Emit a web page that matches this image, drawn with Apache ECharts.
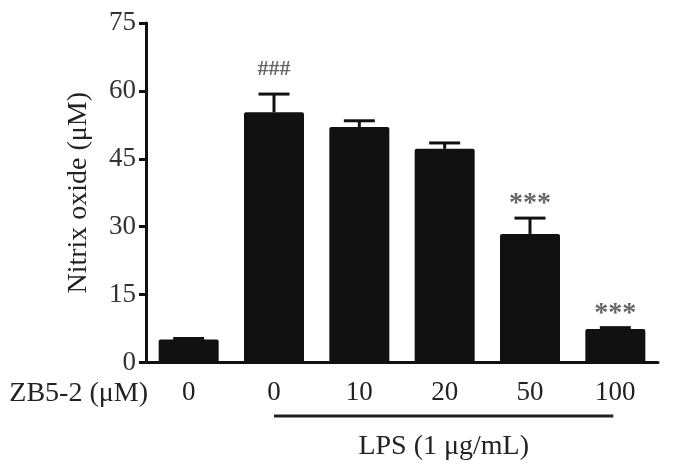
<!DOCTYPE html>
<html>
<head>
<meta charset="utf-8">
<script src="https://cdn.jsdelivr.net/npm/echarts@6/dist/echarts.min.js"></script>
<style>
html,body{margin:0;padding:0;background:#fff;}
#main{width:673px;height:470px;}
</style>
</head>
<body>
<div id="main"></div>
<script>
const categories = ['0', '0', '10', '20', '50', '100'];
const means = [5.1, 55.3, 52.0, 47.2, 28.4, 7.4];
const upperErr = [5.3, 59.3, 53.4, 48.5, 31.9, 7.7];
const marks = ['', '###', '', '', '***', '***'];
const yTicks = [0, 15, 30, 45, 60, 75];

const FONT = '"Liberation Serif", "Times New Roman", serif';
const chart = echarts.init(document.getElementById('main'));

const errData = categories.map((c, i) => [i, means[i], upperErr[i], marks[i]]);

chart.setOption({
  backgroundColor: '#fff',
  animation: false,
  grid: { left: 146, right: 15, top: 23, bottom: 107.5, containLabel: false },
  xAxis: {
    type: 'category',
    data: categories,
    axisLine: { show: true, lineStyle: { color: '#111', width: 3 } },
    axisTick: { show: false },
    axisLabel: { fontFamily: FONT, fontSize: 27, color: '#222', margin: 17 },
    splitLine: { show: false }
  },
  yAxis: {
    type: 'value',
    min: yTicks[0],
    max: yTicks[yTicks.length - 1],
    interval: 15,
    name: 'Nitrix oxide (\u03bcM)',
    nameLocation: 'middle',
    nameRotate: 90,
    nameGap: 53,
    nameTextStyle: { fontFamily: FONT, fontSize: 28, color: '#222' },
    axisLine: { show: true, lineStyle: { color: '#111', width: 3 } },
    axisTick: { show: true, inside: false, length: 7, lineStyle: { color: '#111', width: 3 } },
    axisLabel: { fontFamily: FONT, fontSize: 27, color: '#333', margin: 10 },
    splitLine: { show: false }
  },
  series: [
    {
      type: 'bar',
      data: means,
      barWidth: 60,
      itemStyle: { color: '#111', borderRadius: [2, 2, 0, 0] },
      z: 2
    },
    {
      type: 'custom',
      data: errData,
      z: 3,
      renderItem: function (params, api) {
        const i = api.value(0);
        const top = api.coord([i, api.value(1)]);
        const hi = api.coord([i, api.value(2)]);
        const mark = marks[i];
        const half = 15.5;
        const children = [
          { type: 'line', shape: { x1: top[0], y1: top[1], x2: hi[0], y2: hi[1] },
            style: { stroke: '#111', lineWidth: 3 } },
          { type: 'line', shape: { x1: hi[0] - half, y1: hi[1], x2: hi[0] + half, y2: hi[1] },
            style: { stroke: '#111', lineWidth: 3 } }
        ];
        if (mark) {
          const isHash = mark.charAt(0) === '#';
          children.push({
            type: 'text',
            style: {
              text: mark,
              x: hi[0],
              y: hi[1] - (isHash ? 25 : 14),
              align: 'center',
              verticalAlign: 'middle',
              fontFamily: FONT,
              fontSize: isHash ? 22 : 28,
              fontWeight: 'bold',
              fill: '#666'
            }
          });
        }
        return { type: 'group', children: children };
      }
    }
  ]
});

// annotation text and LPS bracket, positioned from the axes
const p0 = chart.convertToPixel({ gridIndex: 0 }, [0, 0]);
const p1 = chart.convertToPixel({ gridIndex: 0 }, [1, 0]);
const p5 = chart.convertToPixel({ gridIndex: 0 }, [5, 0]);
const lineY = p0[1] + 53.5;
const lx1 = p1[0];
const lx2 = p5[0] - 2;
chart.setOption({
  graphic: [
    { type: 'text', x: 148, y: p0[1] + 31, style: { text: 'ZB5-2 (\u03bcM)', align: 'right', verticalAlign: 'middle', fontFamily: FONT, fontSize: 28, fill: '#222' } },
    { type: 'line', shape: { x1: lx1, y1: lineY, x2: lx2, y2: lineY }, style: { stroke: '#222', lineWidth: 3 } },
    { type: 'text', x: (lx1 + lx2) / 2, y: lineY + 31, style: { text: 'LPS (1 \u03bcg/mL)', align: 'center', verticalAlign: 'middle', fontFamily: FONT, fontSize: 28, fill: '#222' } }
  ]
});
</script>
</body>
</html>
